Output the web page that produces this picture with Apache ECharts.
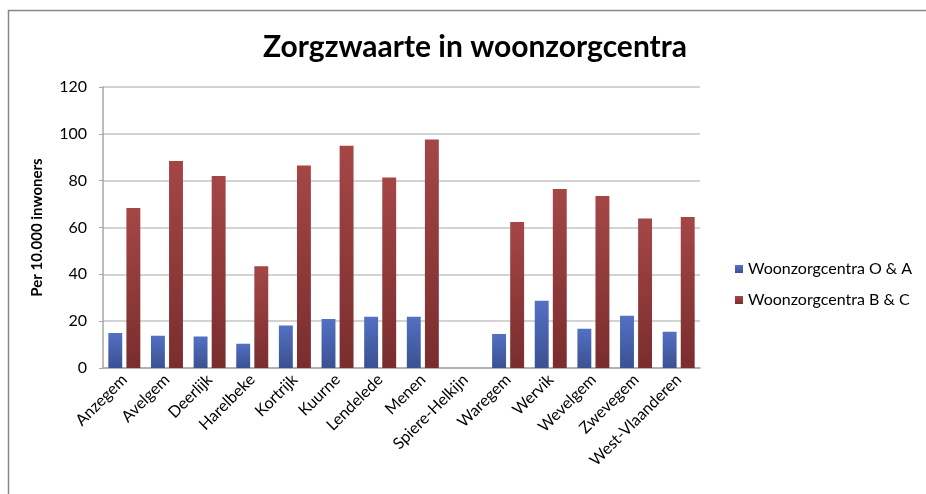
<!DOCTYPE html>
<html>
<head>
<meta charset="utf-8">
<script src="https://cdn.jsdelivr.net/npm/echarts@6/dist/echarts.min.js"></script>
<style>
html,body{margin:0;padding:0;background:#fff;}
#grafiek{width:926px;height:494px;}
</style>
</head>
<body>
<div id="grafiek"></div>
<script>
var gemeenten = ['Anzegem','Avelgem','Deerlijk','Harelbeke','Kortrijk','Kuurne','Lendelede','Menen','Spiere-Helkijn','Waregem','Wervik','Wevelgem','Zwevegem','West-Vlaanderen'];
var waardenOA = [14.9, 13.8, 13.4, 10.4, 18.2, 20.9, 21.9, 21.9, null, 14.5, 28.7, 16.8, 22.3, 15.5];
var waardenBC = [68.3, 88.4, 82.0, 43.5, 86.5, 94.9, 81.3, 97.6, null, 62.4, 76.4, 73.4, 63.8, 64.5];
var reeksNamen = ['Woonzorgcentra O & A', 'Woonzorgcentra B & C'];

(function(){
    var dom = document.getElementById('grafiek');
    var myChart = echarts.init(dom);
    var lettertype = 'Lato, "Open Sans", sans-serif';

    function verloop(boven, onder){
        return new echarts.graphic.LinearGradient(0, 0, 0, 1, [
            {offset: 0, color: boven},
            {offset: 1, color: onder}
        ]);
    }

    var option = {
        backgroundColor: '#fff',
        textStyle: {fontFamily: lettertype},
        graphic: [{
            type: 'rect',
            shape: {x: 8.5, y: 10.5, width: 1000, height: 1000},
            style: {fill: 'none', stroke: '#868686', lineWidth: 1.5},
            silent: true
        }],
        title: {
            text: 'Zorgzwaarte in woonzorgcentra',
            left: 470, top: 27, textAlign: 'center',
            textStyle: {fontFamily: lettertype, fontSize: 30, fontWeight: 'bold', color: '#000'}
        },
        legend: {
            orient: 'vertical',
            left: 730, top: 256,
            itemWidth: 8, itemHeight: 8, itemGap: 15,
            icon: 'rect',
            textStyle: {fontFamily: lettertype, fontSize: 16, color: '#000'},
            data: reeksNamen
        },
        grid: {left: 103, top: 87, right: 226, bottom: 126},
        xAxis: {
            type: 'category',
            data: gemeenten,
            axisLine: {lineStyle: {color: '#a6a6a6', width: 1.5}},
            axisTick: {show: false},
            axisLabel: {rotate: 45, interval: 0, fontSize: 16, color: '#000', fontFamily: lettertype, margin: 9}
        },
        yAxis: {
            type: 'value',
            min: 0, max: 120, interval: 20,
            name: 'Per 10.000 inwoners',
            nameLocation: 'middle', nameGap: 58,
            nameTextStyle: {fontFamily: lettertype, fontSize: 15, fontWeight: 'bold', color: '#000'},
            axisLine: {show: true, lineStyle: {color: '#a6a6a6', width: 1.5}},
            axisTick: {show: true, length: 4, lineStyle: {color: '#a6a6a6'}},
            axisLabel: {fontSize: 16, color: '#000', fontFamily: lettertype, margin: 16},
            splitLine: {lineStyle: {color: '#c4c4c4', width: 1.5}}
        },
        series: [
            {name: reeksNamen[0], type: 'bar', data: waardenOA, barGap: '30%', barCategoryGap: '25%',
                itemStyle: {color: verloop('#5470c4', '#3a5192')}},
            {name: reeksNamen[1], type: 'bar', data: waardenBC,
                itemStyle: {color: verloop('#a54646', '#7a2d2d')}}
        ]
    };
    myChart.setOption(option, true);
})();
</script>
</body>
</html>
